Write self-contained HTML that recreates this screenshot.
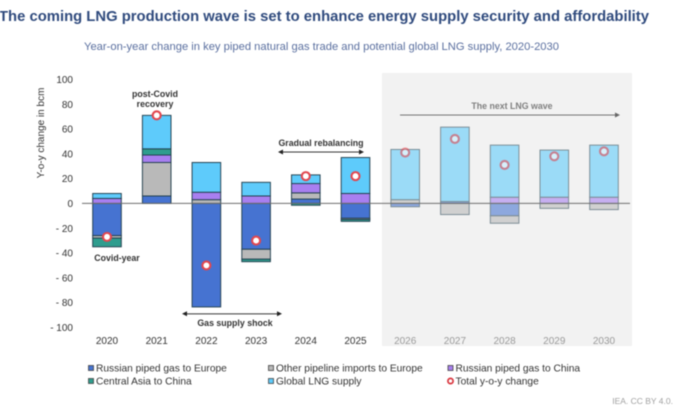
<!DOCTYPE html>
<html lang="en">
<head>
<meta charset="utf-8">
<title>The coming LNG production wave</title>
<style>
html,body{margin:0;padding:0;background:#fff;}
body{width:678px;height:410px;overflow:hidden;}
svg{display:block;filter:blur(0.45px);font-family:"Liberation Sans",sans-serif;}
</style>
</head>
<body>
<svg id="chart" xmlns="http://www.w3.org/2000/svg" width="678" height="410" viewBox="0 0 678 410">
  <rect width="678" height="410" fill="#fff"/>
  <text x="-1" y="21" font-size="15" font-weight="bold" fill="#2f4a7d" textLength="650" lengthAdjust="spacingAndGlyphs">The coming LNG production wave is set to enhance energy supply security and affordability</text>
  <text x="84" y="50" font-size="11" fill="#5a6f9f" textLength="475" lengthAdjust="spacingAndGlyphs">Year-on-year change in key piped natural gas trade and potential global LNG supply, 2020-2030</text>
  <rect x="382" y="73" width="250" height="273" fill="#f2f2f2"/>
  <g id="bars"></g>
  <g id="axis"></g>
  <g id="markers"></g>
  <text transform="translate(44,133) rotate(-90)" text-anchor="middle" font-size="10" fill="#333">Y-o-y change in bcm</text>

  <g font-size="8.8" font-weight="bold" fill="#333" text-anchor="middle">
    <text x="155" y="97">post-Covid</text>
    <text x="155" y="107">recovery</text>
    <text x="117" y="261">Covid-year</text>
    <text x="235" y="326">Gas supply shock</text>
    <text x="321" y="146">Gradual rebalancing</text>
    <text x="512" y="109" fill="#7f7f7f">The next LNG wave</text>
  </g>

  <g fill="#222" stroke="none">
    <rect x="186" y="313.4" width="92" height="0.9"/>
    <polygon points="182,313.8 187,311.3 187,316.3"/>
    <polygon points="282,313.8 277,311.3 277,316.3"/>
  </g>
  <g fill="#222" stroke="none">
    <rect x="282" y="151.6" width="78" height="0.9"/>
    <polygon points="278,152 283,149.5 283,154.5"/>
    <polygon points="364,152 359,149.5 359,154.5"/>
  </g>
  <g fill="#666" stroke="none">
    <rect x="400" y="114.6" width="216" height="0.9"/>
    <polygon points="620,115 615,112.5 615,117.5"/>
  </g>

  <g id="legend" font-size="10.2" fill="#333"></g>
  <text x="673" y="404" text-anchor="end" font-size="8.5" fill="#a0a0a0">IEA. CC BY 4.0.</text>
</svg>
<script>
var years = ['2020','2021','2022','2023','2024','2025','2026','2027','2028','2029','2030'];
var russianEurope = [-26, 6, -83.5, -37, 3.5, -12, -2.7, 1.5, -10, 0, 0];
var otherEurope = [-2, 27, 3, -8, 5, -1, 3, -9, -6, -4, -5];
var russianChina = [4, 6, 6, 6, 7.5, 8, 0, 0, 5, 5, 5];
var centralAsia = [-7, 5, 0, -2, -1.5, -1.5, 0, 0, 0, 0, 0];
var globalLng = [4, 27, 24, 11, 7, 29, 40.5, 60, 42, 38, 42];
var totalChange = [-27, 71, -50, -30, 22, 22, 41, 52, 31, 38, 42];
var yTicks = [100, 80, 60, 40, 20, 0, -20, -40, -60, -80, -100];
var seriesNames = ['Russian piped gas to Europe', 'Other pipeline imports to Europe', 'Russian piped gas to China', 'Central Asia to China', 'Global LNG supply'];
var firstForecastYear = '2026';

var NS = 'http://www.w3.org/2000/svg';
var seriesValues = [russianEurope, otherEurope, russianChina, centralAsia, globalLng];
var seriesColors = ['#4673d1', '#b9b9b9', '#a87ff0', '#2f9d8e', '#5ecbfb'];

function yScale(v) { return 203.4 - v * 1.24; }
function xScale(i) { return 107 + i * 49.7; }
function make(tag, attrs, parent) {
  var el = document.createElementNS(NS, tag);
  for (var k in attrs) { el.setAttribute(k, attrs[k]); }
  parent.appendChild(el);
  return el;
}

var barsG = document.getElementById('bars');
var axisG = document.getElementById('axis');
var markersG = document.getElementById('markers');
var legendG = document.getElementById('legend');
var forecastStart = years.indexOf(firstForecastYear);

years.forEach(function (year, i) {
  var forecast = i >= forecastStart;
  var group = make('g', { opacity: forecast ? 0.58 : 1 }, barsG);
  
  
  var up = 0, down = 0;
  seriesValues.forEach(function (values, s) {
    var v = values[i];
    if (!v) { return; }
    var from = v > 0 ? up : down;
    var to = from + v;
    if (v > 0) { up = to; } else { down = to; }
    var top = yScale(Math.max(from, to));
    var h = Math.abs(yScale(from) - yScale(to));
    var seg = make('rect', {
      x: xScale(i) - 14.3, y: top, width: 28.6, height: h,
      fill: seriesColors[s], stroke: '#23404f', 'stroke-width': 0.95
    }, group);
    
    
  });

  var label = make('text', {
    x: xScale(i), y: 344, 'text-anchor': 'middle', 'font-size': 10,
    fill: forecast ? '#9a9a9a' : '#333'
  }, axisG);
  
  
  label.textContent = year;

  var dot = make('circle', {
    cx: xScale(i), cy: yScale(totalChange[i]), r: 4,
    fill: '#fff', stroke: '#e2474f', 'stroke-width': 2.1,
    opacity: forecast ? 0.6 : 1
  }, markersG);
  
  
});

yTicks.forEach(function (t) {
  var tick = make('text', {
    x: 73, y: yScale(t) + 3.6, 'text-anchor': 'end', 'font-size': 10, fill: '#333'
  }, axisG);
  
  
  tick.textContent = t < 0 ? '- ' + Math.abs(t) : String(t);
});

var zero = make('line', {
  x1: 82, x2: 630, y1: yScale(0), y2: yScale(0), stroke: '#6e6e6e', 'stroke-width': 1
}, axisG);



var legendSlots = [[88.5, 368], [268.5, 368], [448, 368], [88.5, 381], [268.5, 381]];
seriesNames.forEach(function (name, s) {
  var slot = legendSlots[s];
  var entry = make('g', {}, legendG);
  
  
  make('rect', {
    x: slot[0], y: slot[1] - 2.5, width: 5, height: 5,
    fill: seriesColors[s], stroke: '#444', 'stroke-width': 0.8
  }, entry);
  var txt = make('text', { x: slot[0] + 7.5, y: slot[1] + 3.7 }, entry);
  txt.textContent = name;
});
var totalEntry = make('g', {}, legendG);


make('circle', { cx: 450.5, cy: 381, r: 2.6, fill: '#fff', stroke: '#d9363e', 'stroke-width': 1.7 }, totalEntry);
var totalText = make('text', { x: 455.5, y: 384.7 }, totalEntry);
totalText.textContent = 'Total y-o-y change';
</script>
</body>
</html>
